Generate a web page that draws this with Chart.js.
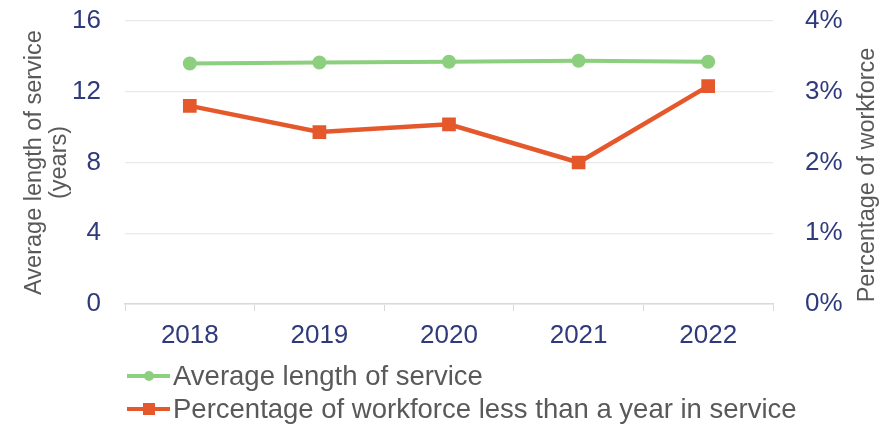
<!DOCTYPE html>
<html><head><meta charset="utf-8">
<script src="https://cdn.jsdelivr.net/npm/chart.js@4/dist/chart.umd.min.js"></script>
<style>
html,body{margin:0;padding:0;background:#fff;}
#wrap{position:relative;width:887px;height:424px;}
canvas{position:absolute;left:0;top:0;}
.leg{position:absolute;left:127px;height:32px;line-height:32px;font-family:'Liberation Sans',Arial,sans-serif;font-size:27.5px;color:#595959;white-space:nowrap;display:flex;align-items:center;}
.mk{position:relative;width:43px;height:4px;margin-right:3px;}
.dot{position:absolute;left:17px;top:-3px;width:10px;height:10px;border-radius:50%;}
.sq{position:absolute;left:16px;top:-4px;width:12px;height:12px;}
</style></head>
<body><div id="wrap"><canvas id="c" width="887" height="424"></canvas>
<div class="leg" style="top:360px"><div class="mk" style="background:#8ccf7e"><div class="dot" style="background:#8ccf7e"></div></div><span id="l1"></span></div>
<div class="leg" style="top:393px"><div class="mk" style="background:#e5582b"><div class="sq" style="background:#e5582b"></div></div><span id="l2"></span></div>
</div>
<script>
const years = ['2018','2019','2020','2021','2022'];
const avgService = [13.6, 13.65, 13.7, 13.75, 13.7];
const pctNew = [2.8, 2.43, 2.54, 2.0, 3.08];
const seriesNames = ['Average length of service','Percentage of workforce less than a year in service'];
const leftTitle = ['Average length of service','(years)'];
const rightTitle = 'Percentage of workforce';
document.getElementById('l1').textContent = seriesNames[0];
document.getElementById('l2').textContent = seriesNames[1];

const FONT = "'Liberation Sans', Arial, sans-serif";
const tickColor = '#2f3a7c';
const titleColor = '#595959';

const rightTitlePlugin = {
  id:'rtitle',
  afterDraw(chart){
    const ctx = chart.ctx;
    ctx.save();
    ctx.translate(868, 175);
    ctx.rotate(-Math.PI/2);
    ctx.font = '23.5px ' + FONT;
    ctx.fillStyle = titleColor;
    ctx.textAlign = 'center';
    ctx.textBaseline = 'middle';
    ctx.fillText(rightTitle, 0, 0);
    ctx.restore();
  }
};

function noVPad(s){ s.paddingTop = 0; s.paddingBottom = 0; }

new Chart(document.getElementById('c'), {
  type:'line',
  data:{
    labels: years,
    datasets:[
      {label:seriesNames[0], data:avgService, yAxisID:'y', borderColor:'#8ccf7e', backgroundColor:'#8ccf7e',
       borderWidth:4, pointStyle:'circle', pointRadius:5, pointHoverRadius:5},
      {label:seriesNames[1], data:pctNew, yAxisID:'y1', borderColor:'#e5582b', backgroundColor:'#e5582b',
       borderWidth:4.5, pointStyle:'rect', pointRadius:6.5, pointHoverRadius:6.5}
    ]
  },
  options:{
    responsive:false, animation:false,
    layout:{padding:{top:21, bottom:70, left:0, right:0}},
    plugins:{legend:{display:false}, tooltip:{enabled:false}},
    scales:{
      x:{
        offset:true,
        grid:{display:true, drawOnChartArea:false, drawTicks:true, tickLength:7, color:'#d9d9d9', offset:true},
        border:{display:true, color:'#d9d9d9', width:1.5},
        ticks:{color:tickColor, font:{family:FONT, size:26}, padding:9},
        afterFit(s){ s.height = 50; }
      },
      y:{
        position:'left', min:0, max:16,
        ticks:{stepSize:4, color:tickColor, font:{family:FONT, size:26}, padding:24},
        grid:{color:'#e9e9e9', drawTicks:false, lineWidth:1.2},
        border:{display:false},
        title:{display:true, text:leftTitle, color:titleColor, font:{family:FONT, size:23.5, lineHeight:1.07}, padding:{top:22,bottom:0}},
        afterFit(s){ s.width = 125; noVPad(s); }
      },
      y1:{
        position:'right', min:0, max:4,
        ticks:{stepSize:1, color:tickColor, font:{family:FONT, size:26}, padding:24, callback:v=>v+'%'},
        grid:{display:false},
        border:{display:false},
        afterFit(s){ s.width = 114; noVPad(s); }
      }
    }
  },
  plugins:[rightTitlePlugin]
});
</script></body></html>
